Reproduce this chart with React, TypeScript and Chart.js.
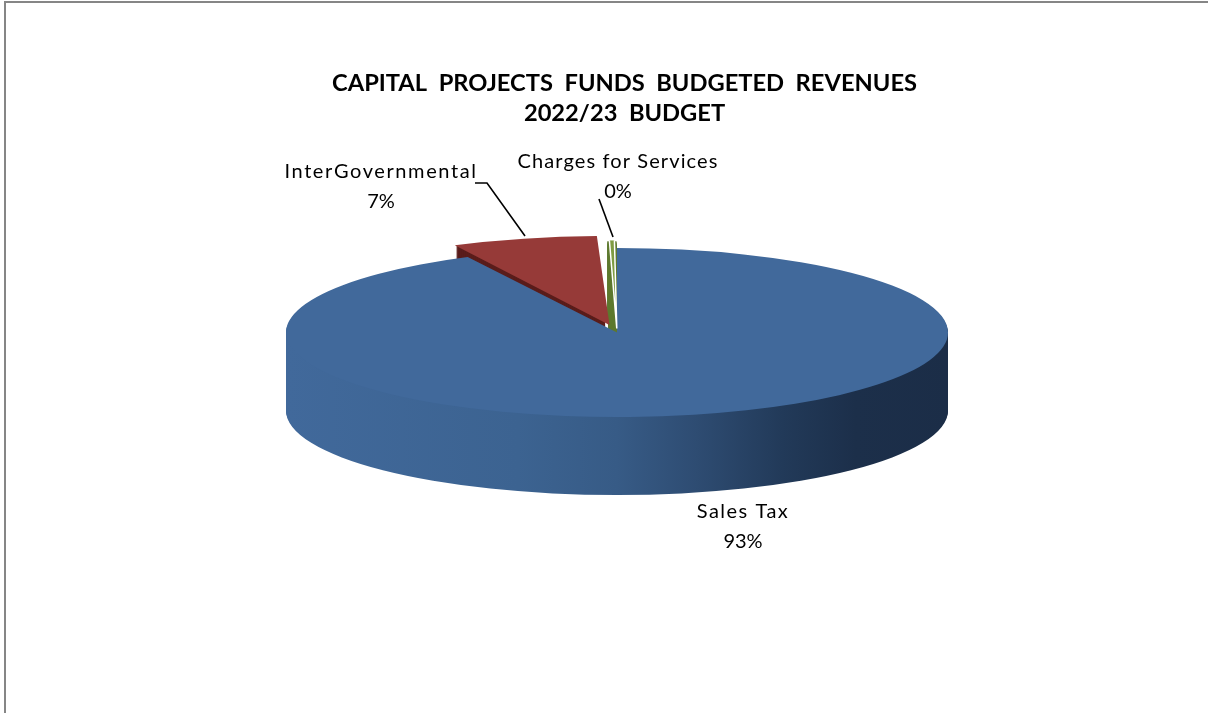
import React, { useEffect, useRef } from "react";
import { Chart, registerables } from "chart.js";

Chart.register(...registerables);

const categories = ["Sales Tax", "InterGovernmental", "Charges for Services"];
const revenueShares = [92.55, 7.0, 0.45];
const sliceColors = ["#41699b", "#963a38", "#7f9c42"];
const wallColors = ["#1b2d47", "#5a1d1b", "#5f7a30"];
const sliceOffsets = [0, 122, 61];
const sliceBorders = [0, 0, 1.5];
const titleLines = ["CAPITAL  PROJECTS  FUNDS  BUDGETED  REVENUES", "2022/23  BUDGET"];

const CENTER_X = 617;
const CENTER_Y = 332.5;
const RADIUS = 331;
const SQUASH = 0.2553;
const DEPTH = 78;

const labelLayout = [
  { x: 743, y1: 512, y2: 542, spacing: "1.5px", leader: null },
  { x: 381, y1: 172, y2: 202, spacing: "1.6px", leader: [[475, 183], [487, 183], [525, 236]] },
  { x: 618, y1: 162, y2: 192, spacing: "1.1px", leader: [[599, 199], [613, 237]] },
];

// how far Chart.js's arc element moves a slice for a given offset option
function sliceTravel(offset: number, start: number, end: number) {
  const fix = 1 - Math.sin(Math.min(Math.PI, end - start));
  return (offset / 4) * (1 + fix);
}

const tiltPlugin = {
  id: "tilt",
  beforeDraw(chart: any) {
    const { ctx, width, height } = chart;
    ctx.save();
    ctx.fillStyle = "#ffffff";
    ctx.fillRect(0, 0, width, height);
    ctx.strokeStyle = "#868686";
    ctx.lineWidth = 2;
    ctx.beginPath();
    ctx.moveTo(5, height);
    ctx.lineTo(5, 2);
    ctx.lineTo(width, 2);
    ctx.stroke();
    ctx.restore();
  },
  beforeDatasetsDraw(chart: any) {
    const { ctx } = chart;
    const arcs = chart.getDatasetMeta(0).data;
    const wallFill = ctx.createLinearGradient(-RADIUS, 0, RADIUS, 0);
    wallFill.addColorStop(0, "#41699b");
    wallFill.addColorStop(0.35, "#3c6391");
    wallFill.addColorStop(0.5, "#375b86");
    wallFill.addColorStop(0.62, "#2e4c72");
    wallFill.addColorStop(0.75, "#223a59");
    wallFill.addColorStop(0.86, "#1c2f4a");
    wallFill.addColorStop(1, "#1b2d47");
    // back slices first, so the front slice covers their walls
    [2, 1, 0].forEach((i) => {
      const arc = arcs[i];
      const mid = (arc.startAngle + arc.endAngle) / 2;
      const off = sliceTravel(sliceOffsets[i], arc.startAngle, arc.endAngle);
      ctx.save();
      ctx.fillStyle = i === 0 ? wallFill : wallColors[i];
      for (let d = DEPTH; d > 0; d--) {
        ctx.save();
        ctx.translate(CENTER_X, CENTER_Y + d);
        ctx.scale(1, SQUASH);
        ctx.translate(Math.cos(mid) * off, Math.sin(mid) * off);
        ctx.beginPath();
        ctx.moveTo(0, 0);
        ctx.arc(0, 0, arc.outerRadius, arc.startAngle, arc.endAngle);
        ctx.closePath();
        ctx.fill();
        ctx.restore();
      }
      ctx.restore();
    });
    // the library's own arcs are drawn as the squashed top face
    const first = arcs[0];
    ctx.save();
    ctx.translate(CENTER_X, CENTER_Y);
    ctx.scale(1, SQUASH);
    ctx.translate(-first.x, -first.y);
  },
  afterDatasetsDraw(chart: any) {
    const { ctx } = chart;
    ctx.restore();
    const total = revenueShares.reduce((a, b) => a + b, 0);
    ctx.save();
    ctx.fillStyle = "#000000";
    ctx.strokeStyle = "#000000";
    ctx.textAlign = "center";
    ctx.textBaseline = "middle";
    ctx.font = '400 20px Lato, "Open Sans", sans-serif';
    categories.forEach((name, i) => {
      const spot = labelLayout[i];
      ctx.letterSpacing = spot.spacing;
      ctx.fillText(name, spot.x, spot.y1);
      ctx.letterSpacing = "0px";
      ctx.fillText(`${Math.round((revenueShares[i] / total) * 100)}%`, spot.x, spot.y2);
      if (spot.leader) {
        ctx.lineWidth = 1.6;
        ctx.beginPath();
        spot.leader.forEach(([x, y], k) => (k ? ctx.lineTo(x, y) : ctx.moveTo(x, y)));
        ctx.stroke();
      }
    });
    ctx.restore();
  },
};

export default function App() {
  const ref = useRef<HTMLCanvasElement>(null);
  useEffect(() => {
    const chart = new Chart(ref.current!, {
      type: "pie",
      data: {
        labels: categories,
        datasets: [
          {
            data: revenueShares,
            backgroundColor: sliceColors,
            offset: sliceOffsets,
            borderWidth: sliceBorders,
            borderColor: "#ffffff",
            clip: false,
          } as any,
        ],
      },
      options: {
        animation: false,
        responsive: false,
        radius: RADIUS,
        layout: { padding: { left: 41, right: 0, top: 0, bottom: 0 } },
        plugins: {
          legend: { display: false },
          tooltip: { enabled: false },
          title: {
            display: true,
            text: titleLines,
            color: "#000000",
            font: { family: 'Lato, "Open Sans", sans-serif', size: 23.7, weight: "bold", lineHeight: 1.27 },
            padding: { top: 68, bottom: 10 },
          },
        },
      } as any,
      plugins: [tiltPlugin],
    });
    return () => chart.destroy();
  }, []);
  return (
    <div style={{ position: "fixed", left: 0, top: 0, width: 1208, height: 713 }}>
      <canvas ref={ref} width={1208} height={713} style={{ display: "block" }} />
    </div>
  );
}
